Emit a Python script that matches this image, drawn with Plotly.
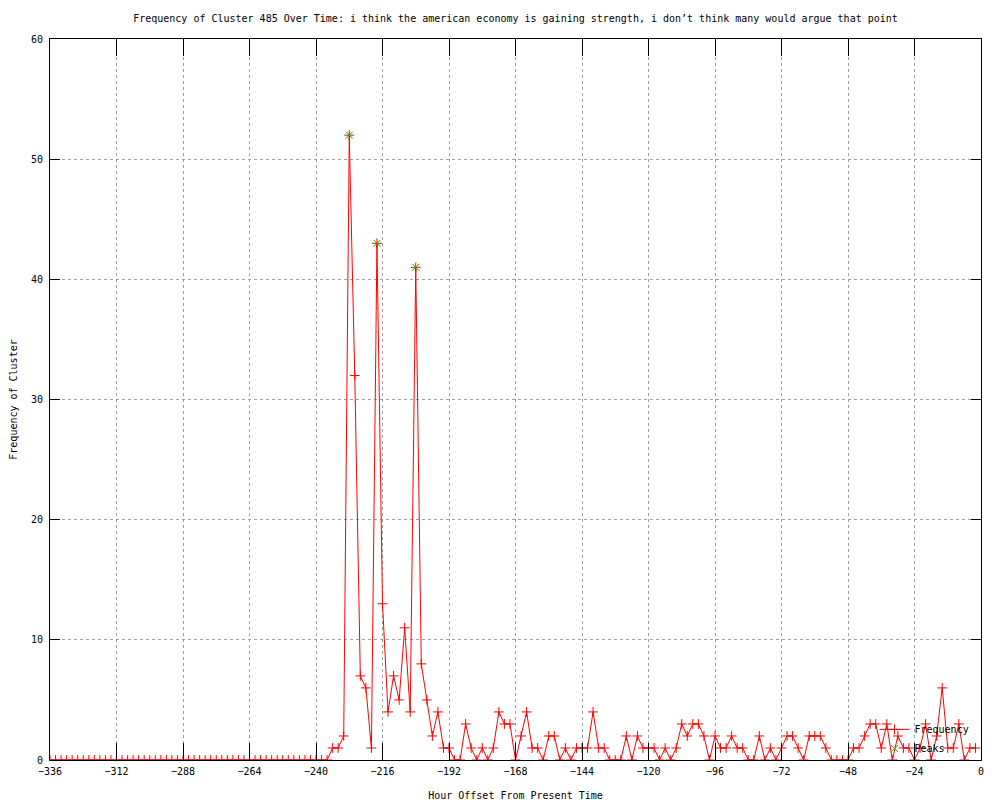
import plotly.graph_objects as go

# ---- data ----
hours = list(range(-336, 0, 2))  # hour offsets, 2-hour bins (-336 ... -2)

frequency = [
    # -336 .. -236
    0, 0, 0, 0, 0, 0, 0, 0, 0, 0,
    0, 0, 0, 0, 0, 0, 0, 0, 0, 0,
    0, 0, 0, 0, 0, 0, 0, 0, 0, 0,
    0, 0, 0, 0, 0, 0, 0, 0, 0, 0,
    0, 0, 0, 0, 0, 0, 0, 0, 0, 0,
    0,
    # -234 .. -2
    1, 1, 2, 52, 32, 7, 6, 1, 43, 13,
    4, 7, 5, 11, 4, 41, 8, 5, 2, 4,
    1, 1, 0, 0, 3, 1, 0, 1, 0, 1,
    4, 3, 3, 0, 2, 4, 1, 1, 0, 2,
    2, 0, 1, 0, 1, 1, 1, 4, 1, 1,
    0, 0, 0, 2, 0, 2, 1, 1, 1, 0,
    1, 0, 1, 3, 2, 3, 3, 2, 0, 2,
    1, 1, 2, 1, 1, 0, 0, 2, 0, 1,
    0, 1, 2, 2, 1, 0, 2, 2, 2, 1,
    0, 0, 0, 0, 1, 1, 2, 3, 3, 1,
    3, 0, 2, 1, 1, 0, 1, 3, 0, 2,
    6, 1, 1, 3, 0, 1, 1,
]

peak_hours = [-228, -218, -204]
peak_values = [52, 43, 41]

x_ticks = [-336, -312, -288, -264, -240, -216, -192, -168, -144, -120, -96, -72, -48, -24, 0]
y_ticks = [0, 10, 20, 30, 40, 50, 60]

title_text = ("Frequency of Cluster 485 Over Time: i think the american economy is gaining "
              "strength, i don\u2019t think many would argue that point")

FONT = "DejaVu Sans Mono"
RED = "#ff0000"
GREEN = "#00c000"

fig = go.Figure()
fig.add_trace(go.Scatter(
    x=hours, y=frequency, name="Frequency", mode="lines+markers",
    line=dict(color=RED, width=1),
    marker=dict(symbol="cross-thin", size=7, line=dict(color=RED, width=1), color=RED),
))
fig.add_trace(go.Scatter(
    x=peak_hours, y=peak_values, name="Peaks", mode="markers",
    marker=dict(symbol="x-thin", size=7, line=dict(color=GREEN, width=1), color=GREEN),
))

axis_common = dict(
    showline=True, linecolor="black", linewidth=1, mirror="ticks",
    ticks="inside", tickcolor="black", tickwidth=1,
    showgrid=True, gridcolor="#a0a0a0", griddash="dot", gridwidth=1,
    zeroline=False, automargin=False,
    tickfont=dict(family=FONT, size=10, color="black"),
    title_font=dict(family=FONT, size=10, color="black"),
)

# page body has an 8px margin, so the figure is offset by 8px; margins compensate
fig.update_layout(
    width=1000, height=800,
    paper_bgcolor="white", plot_bgcolor="white",
    margin=dict(l=42, r=27, t=31, b=48),
    title=dict(text=title_text, x=0.5, xref="paper", y=1 - 10 / 800, yref="container",
               xanchor="center", yanchor="middle", automargin=False,
               font=dict(family=FONT, size=10, color="black")),
    xaxis=dict(range=[-336, 0], tickvals=x_ticks, ticklen=17, ticklabelstandoff=2,
               title=dict(text="Hour Offset From Present Time", standoff=15), **axis_common),
    yaxis=dict(range=[0, 60], tickvals=y_ticks, ticklen=10, ticklabelstandoff=4,
               title=dict(text="Frequency of Cluster", standoff=16), **axis_common),
    legend=dict(x=0.993, xanchor="right", y=-0.004, yanchor="bottom",
                bgcolor="rgba(0,0,0,0)", font=dict(family=FONT, size=10, color="black"),
                tracegroupgap=0),
    showlegend=True,
)

fig.write_html("out.html")
